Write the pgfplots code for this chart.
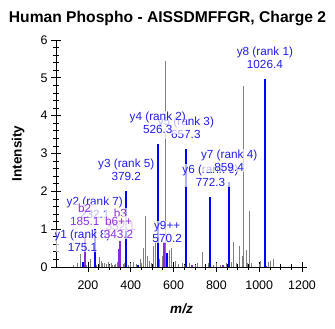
\documentclass[border=0pt]{standalone}
\usepackage{fontspec}
\setmainfont{Liberation Sans}
\usepackage{pgfplots}
\pgfplotsset{compat=1.18}
\definecolor{ionblue}{RGB}{0,0,255}
\definecolor{ionpurple}{RGB}{138,43,226}
\definecolor{lblblue}{RGB}{35,30,240}
\definecolor{lblpurple}{RGB}{145,50,225}
\definecolor{peakgray}{RGB}{128,128,128}
\tikzset{lbl/.style={font=\fontsize{11.8}{13}\selectfont, fill=white, fill opacity=0.7, text opacity=1, inner sep=0.5bp, align=center, anchor=south, yshift=10bp}}
\begin{document}
\begin{tikzpicture}
\begin{axis}[
  scale only axis, width=251bp, height=227bp,
  xmin=51, xmax=1223, ymin=0, ymax=6,
  axis x line*=bottom, axis y line*=left,
  axis line style={black, line width=0.8bp},
  xtick={200,400,...,1200}, minor x tick num=3,
  ytick={0,1,...,6}, minor y tick num=4,
  tick align=center, major tick length=10bp, minor tick length=6bp,
  tick style={black, line width=0.8bp},
  ticklabel style={font=\fontsize{12.5}{14}\selectfont, text=black},
  xticklabel style={yshift=-5bp},
  /pgf/number format/assume math mode=true,
  /pgf/number format/1000 sep={},
  clip=true,
]
\coordinate (bl) at (rel axis cs:0,0);
% grey peaks
\addplot[ycomb, no marks, draw=peakgray, line width=1bp] coordinates {
(135,0.05)(153,0.1)(165,0.35)(180,0.05)(195,0.04)(214,0.2)(240,0.06)(256,0.27)(265,0.15)(270,0.1)(279,0.1)(288,0.08)(295,0.12)(300,0.06)(310,0.1)(316,0.06)(322,0.05)(330,0.08)(340,0.12)(365,0.08)(372,0.1)(390,0.05)(400,0.1)(414,0.12)(425,0.08)(437,0.06)(446,0.2)(452,0.1)(460,0.5)(467,1.35)(479,0.3)(488,0.15)(498,0.1)(507,0.55)(515,0.7)(533,0.2)(548,0.3)(561,5.45)(581,0.45)(590,0.5)(609,0.15)(623,0.08)(642,0.1)(651,0.05)(674,0.1)(702,0.05)(712,0.1)(735,0.4)(763,0.1)(786,0.05)(800,0.1)(819,0.05)(847,0.1)(870,0.12)(879,0.65)(893,0.1)(907,0.55)(921,0.3)(926,4.79)(940,0.45)(944,0.1)(953,1.48)(963,0.1)(1000,0.08)(1005,0.15)(1042,0.12)(1051,0.15)(1065,0.2)
};
% purple (b ions)
\addplot[ycomb, no marks, draw=ionpurple, line width=2bp] coordinates {
(185.1,0.8)(343.2,0.48)(352.1,0.68)(556,0.66)(688,0.04)(833,0.04)(1032,0.03)
};
% blue (y ions)
\addplot[ycomb, no marks, draw=ionblue, line width=2bp] coordinates {
(175.1,0.12)(232.1,1.0)(379.2,2.0)(432,0.04)(526.3,3.25)(570.2,0.37)(657.3,3.12)(772.3,1.85)(859.4,2.25)(1026.4,4.97)
};
\begin{scope}
\clip (rel axis cs:0,0) rectangle (rel axis cs:1,1);
\node[lbl, text=lblblue] at (axis cs:175.1,0.12) {y1 (rank 8)\\175.1};
\node[lbl, text=lblblue] at (axis cs:232.1,1.0) {y2 (rank 7)\\232.1};
\node[lbl, text=lblblue] at (axis cs:772.3,1.85) {y6 (rank 6)\\772.3};
\node[lbl, text=lblblue] at (axis cs:379.2,2.0) {y3 (rank 5)\\379.2};
\node[lbl, text=lblblue] at (axis cs:859.4,2.25) {y7 (rank 4)\\859.4};
\node[lbl, text=lblblue] at (axis cs:657.3,3.12) {y5 (rank 3)\\657.3};
\node[lbl, text=lblblue] at (axis cs:526.3,3.25) {y4 (rank 2)\\526.3};
\node[lbl, text=lblblue] at (axis cs:1026.4,4.97) {y8 (rank 1)\\1026.4};
\node[lbl, text=lblblue] at (axis cs:570.2,0.37) {y9++\\570.2};
\node[lbl, text=lblpurple] at (axis cs:185.1,0.8) {b2\\185.1};
\node[lbl, text=lblpurple] at (axis cs:352.1,0.68) {b3\\352.1};
\node[lbl, text=lblpurple] at (axis cs:343.2,0.48) {b6++\\343.2};
\end{scope}
\end{axis}
\path (bl) ++(111.5bp,249bp) node[font=\bfseries\fontsize{15.7}{18}\selectfont] {Human Phospho - AISSDMFFGR, Charge 2};
\path (bl) ++(-38bp,113.5bp) node[rotate=90, font=\bfseries\fontsize{13.6}{16}\selectfont] {Intensity};
\path (bl) ++(125.5bp,-42bp) node[font=\bfseries\itshape\fontsize{13.6}{16}\selectfont] {m/z};
\pgfresetboundingbox
\path (bl) ++(-56bp,-62bp) rectangle ++(335bp,329bp);
\end{tikzpicture}
\end{document}
